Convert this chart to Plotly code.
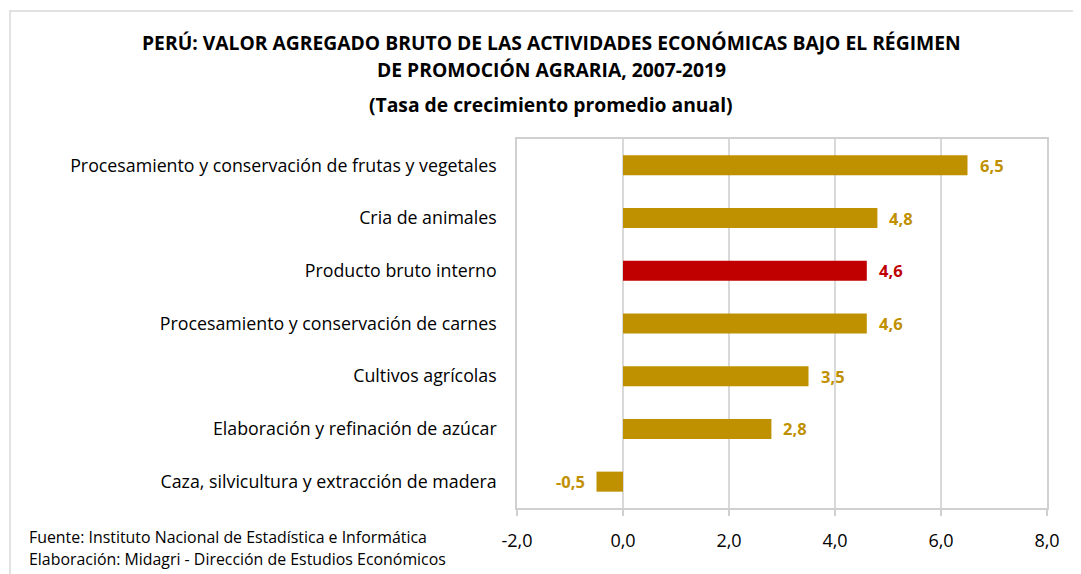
import plotly.graph_objects as go

categories = [
    "Procesamiento y conservación de frutas y vegetales",
    "Cria de animales",
    "Producto bruto interno",
    "Procesamiento y conservación de carnes",
    "Cultivos agrícolas",
    "Elaboración y refinación de azúcar",
    "Caza, silvicultura y extracción de madera",
]
values = [6.5, 4.8, 4.6, 4.6, 3.5, 2.8, -0.5]
colors = ["#BF9000", "#BF9000", "#C00000", "#BF9000", "#BF9000", "#BF9000", "#BF9000"]
tick_vals = [-2, 0, 2, 4, 6, 8]
tick_text = ["-2,0", "0,0", "2,0", "4,0", "6,0", "8,0"]

OFF = 8  # page body margin
W, H = 1081, 574
L = 517 - OFF
T = 139 - OFF
R = W - (1047 - OFF)
B = H - (508 - OFF)
pw, ph = W - L - R, H - T - B

def px(x):
    return (x - OFF - L) / pw

def py(y):
    return (H - B - (y - OFF)) / ph

FONT = "Open Sans"

fig = go.Figure()
fig.add_trace(go.Bar(
    y=categories, x=values, orientation="h",
    marker=dict(color=colors, line=dict(width=0)),
    hoverinfo="skip",
))

annotations = []
for c, v, col in zip(categories, values, colors):
    annotations.append(dict(
        x=v, y=c, xref="x", yref="y",
        text=f"<b>{v:.1f}</b>".replace(".", ","),
        showarrow=False,
        xanchor="left" if v >= 0 else "right",
        xshift=10 if v >= 0 else -10,
        font=dict(family=FONT, size=16.5, color=col),
    ))

annotations += [
    dict(x=px(551), y=py(43), xref="paper", yref="paper", showarrow=False,
         text="<b>PERÚ: VALOR AGREGADO BRUTO DE LAS ACTIVIDADES ECONÓMICAS BAJO EL RÉGIMEN</b>",
         font=dict(family=FONT, size=19.3, color="#000000"), xanchor="center", yanchor="middle"),
    dict(x=px(551), y=py(69), xref="paper", yref="paper", showarrow=False,
         text="<b>DE PROMOCIÓN AGRARIA, 2007-2019</b>",
         font=dict(family=FONT, size=19.3, color="#000000"), xanchor="center", yanchor="middle"),
    dict(x=px(551), y=py(105), xref="paper", yref="paper", showarrow=False,
         text="<b>(Tasa de crecimiento promedio anual)</b>",
         font=dict(family=FONT, size=19.3, color="#000000"), xanchor="center", yanchor="middle"),
    dict(x=px(27), y=py(537), xref="paper", yref="paper", showarrow=False,
         text="Fuente: Instituto Nacional de Estadística e Informática",
         font=dict(family=FONT, size=15.9, color="#000000"), xanchor="left", yanchor="middle"),
    dict(x=px(27), y=py(559), xref="paper", yref="paper", showarrow=False,
         text="Elaboración: Midagri - Dirección de Estudios Económicos",
         font=dict(family=FONT, size=15.9, color="#000000"), xanchor="left", yanchor="middle"),
]

shapes = [
    dict(type="rect", xref="paper", yref="paper",
         x0=px(10), x1=px(1100), y0=py(11), y1=py(600),
         line=dict(color="#D9D9D9", width=1.5), fillcolor="rgba(0,0,0,0)", layer="below"),
]

fig.update_layout(
    width=W, height=H,
    margin=dict(l=L, r=R, t=T, b=B),
    paper_bgcolor="white", plot_bgcolor="white",
    separators=",.",
    showlegend=False,
    bargap=0.62,
    font=dict(family=FONT, size=16, color="#000000"),
    xaxis=dict(
        range=[-2, 8], tickvals=tick_vals, ticktext=tick_text,
        showgrid=True, gridcolor="#D9D9D9", gridwidth=1.5,
        zeroline=False,
        showline=True, linecolor="#D0D0D0", linewidth=1.5, mirror=True,
        ticks="outside", ticklen=6, tickcolor="#D0D0D0", tickwidth=1.5,
        ticklabelstandoff=10,
        tickfont=dict(family=FONT, size=18, color="#000000"),
        fixedrange=True,
    ),
    yaxis=dict(
        categoryorder="array", categoryarray=categories[::-1],
        showgrid=False, zeroline=False,
        showline=True, linecolor="#D0D0D0", linewidth=1.5, mirror=True,
        ticks="", ticklabelstandoff=15,
        tickfont=dict(family=FONT, size=17.8, color="#000000"),
        fixedrange=True,
    ),
    annotations=annotations,
    shapes=shapes,
)

fig.write_html("out.html")
